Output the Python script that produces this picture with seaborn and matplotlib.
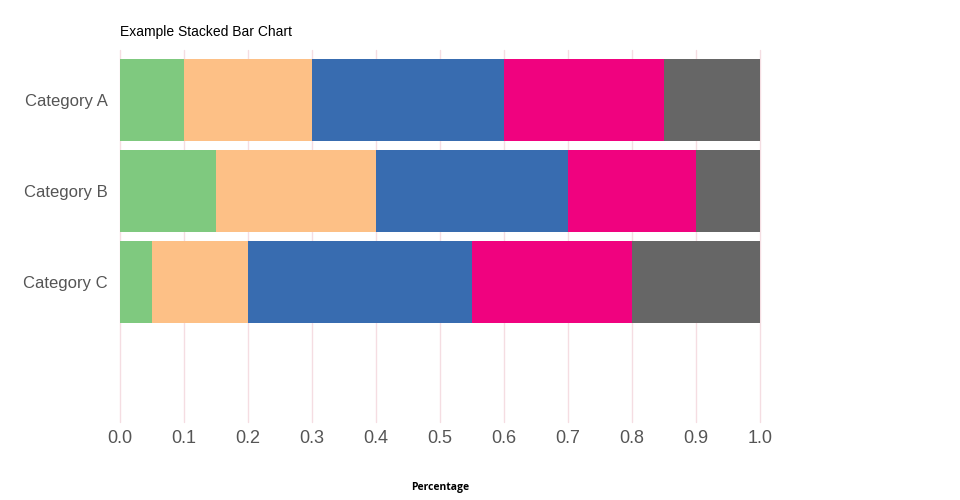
import numpy as np
import pandas as pd
import seaborn as sns
import matplotlib.pyplot as plt

# 数据
categories = ['Category A', 'Category B', 'Category C']
seg1 = [0.10, 0.15, 0.05]
seg2 = [0.20, 0.25, 0.15]
seg3 = [0.30, 0.30, 0.35]
seg4 = [0.25, 0.20, 0.25]
seg5 = [0.15, 0.10, 0.20]
colors = ['#7fc97f', '#fdc086', '#386cb0', '#f0027f', '#666666']

df = pd.DataFrame({'category': categories, 's1': seg1, 's2': seg2,
                   's3': seg3, 's4': seg4, 's5': seg5})
cols = ['s1', 's2', 's3', 's4', 's5']
cum = df[cols].cumsum(axis=1)

sns.set_style('white')
plt.rcParams['font.family'] = ['Liberation Sans', 'DejaVu Sans']

fig = plt.figure(figsize=(9.6, 5), dpi=100)
ax = fig.add_axes([0.125, 0.156, 0.6667, 0.744])

# 从最长的累计值开始画，后面的覆盖前面的
for col, c in reversed(list(zip(cols, colors))):
    sns.barplot(x=cum[col], y=df['category'], color=c, orient='h',
                width=0.9, saturation=1, linewidth=0, ax=ax, zorder=2)

ax.set_xlim(0, 1)
ax.set_ylim(3.54, -0.55)
ticks = np.arange(0, 1.01, 0.1)
ax.set_xticks(ticks)
ax.set_xticklabels([f'{t:.1f}' for t in ticks])
ax.grid(axis='x', color='#f5dde2', linewidth=1, zorder=0)
for gl in ax.get_xgridlines():
    gl.set_clip_on(False)
ax.set_axisbelow(True)
for s in ax.spines.values():
    s.set_visible(False)
ax.tick_params(axis='x', length=0, labelsize=13, labelcolor='#555555', pad=6)
ax.tick_params(axis='y', length=0, labelsize=12, labelcolor='#555555', pad=9)

ax.set_ylabel('')
ax.set_xlabel('Percentage', fontsize=7.5, fontweight='bold', family='Open Sans',
              labelpad=25, color='black')
ax.set_title('Example Stacked Bar Chart', loc='left', fontsize=10, pad=10,
             color='black')

plt.savefig('out.png', dpi=100)
